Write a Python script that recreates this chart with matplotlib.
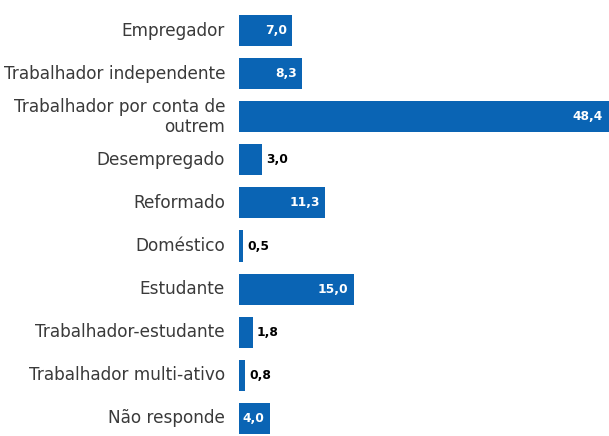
import matplotlib
matplotlib.use("Agg")
import matplotlib.pyplot as plt

categories = ["Empregador", "Trabalhador independente", "Trabalhador por conta de\noutrem",
              "Desempregado", "Reformado", "Doméstico", "Estudante",
              "Trabalhador-estudante", "Trabalhador multi-ativo", "Não responde"]
values = [7.0, 8.3, 48.4, 3.0, 11.3, 0.5, 15.0, 1.8, 0.8, 4.0]
labels = ["7,0", "8,3", "48,4", "3,0", "11,3", "0,5", "15,0", "1,8", "0,8", "4,0"]
inside = [True, True, True, False, True, False, True, False, False, True]

W, H = 609, 436
fig = plt.figure(figsize=(W / 100, H / 100), dpi=100)
ax = fig.add_axes([239 / W, 0, 1 - 239 / W, 1])
color = "#0A64B4"
ys = list(range(len(categories)))
ax.barh(ys, values, height=0.72, color=color)
ax.set_xlim(0, 48.45)
ax.set_ylim(9.408, -0.708)
ax.axis("off")

font = "DejaVu Sans"
for y, cat, v, lab, ins in zip(ys, categories, values, labels, inside):
    ax.annotate(cat, xy=(0, y), xytext=(-10, 0), textcoords="offset points",
                ha="right", va="center", fontsize=12.2, color="#3a3a3a",
                family=font, annotation_clip=False, linespacing=1.15)
    if ins:
        ax.annotate(lab, xy=(v, y), xytext=(-4, 0), textcoords="offset points",
                    ha="right", va="center", fontsize=8.8, color="white",
                    fontweight="bold", family=font)
    else:
        ax.annotate(lab, xy=(v, y), xytext=(3, 0), textcoords="offset points",
                    ha="left", va="center", fontsize=8.8, color="black",
                    fontweight="bold", family=font)

fig.savefig("out.png", dpi=100)
